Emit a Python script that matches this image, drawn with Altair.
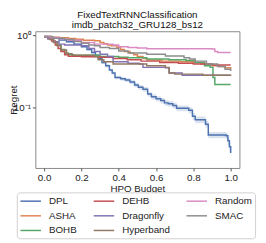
import altair as alt
import pandas as pd

methods = ["DPL", "ASHA", "BOHB", "DEHB", "Dragonfly", "Hyperband", "Random", "SMAC"]
colors = ["#4C72B0", "#DD8452", "#55A868", "#C44E52", "#8172B3", "#937860", "#DA8BC3", "#8C8C8C"]

DPL_x = [0.00, 0.04, 0.08, 0.12, 0.16, 0.20, 0.23, 0.255, 0.275, 0.29, 0.31, 0.33, 0.35, 0.365, 0.38,
         0.41, 0.435, 0.46, 0.485, 0.505, 0.53, 0.555, 0.575, 0.60, 0.625, 0.645, 0.665, 0.69, 0.71,
         0.775, 0.795, 0.81, 0.865, 0.88, 0.975, 0.985, 0.993, 1.0]
DPL_y = [0.97, 0.92, 0.87, 0.82, 0.76, 0.70, 0.64, 0.58, 0.53, 0.48, 0.42, 0.38, 0.33, 0.30, 0.26,
         0.25, 0.24, 0.225, 0.205, 0.19, 0.178, 0.153, 0.14, 0.131, 0.124, 0.115, 0.112, 0.106, 0.097,
         0.091, 0.075, 0.067, 0.058, 0.041, 0.040, 0.034, 0.028, 0.023]
DPL_lo = [0.95, 0.90, 0.85, 0.80, 0.74, 0.68, 0.62, 0.56, 0.51, 0.46, 0.40, 0.36, 0.315, 0.285, 0.245,
          0.235, 0.225, 0.21, 0.19, 0.176, 0.165, 0.141, 0.128, 0.120, 0.113, 0.105, 0.102, 0.096, 0.088,
          0.082, 0.067, 0.060, 0.052, 0.037, 0.036, 0.030, 0.024, 0.019]
DPL_hi = [0.99, 0.94, 0.89, 0.84, 0.78, 0.72, 0.66, 0.60, 0.55, 0.50, 0.44, 0.40, 0.345, 0.315, 0.275,
          0.265, 0.255, 0.24, 0.22, 0.204, 0.191, 0.165, 0.152, 0.142, 0.135, 0.125, 0.122, 0.116, 0.106,
          0.100, 0.083, 0.074, 0.064, 0.045, 0.044, 0.038, 0.032, 0.027]

ASHA_x = [0.00, 0.04, 0.08, 0.13, 0.17, 0.21, 0.27, 0.30, 0.32, 0.34, 0.36, 0.39, 0.41, 0.43, 0.46,
          0.48, 0.50, 0.53, 0.55, 0.63, 0.73, 0.80, 0.84, 0.90, 0.94, 0.97, 1.00]
ASHA_y = [0.97, 0.95, 0.93, 0.91, 0.89, 0.86, 0.85, 0.80, 0.77, 0.74, 0.72, 0.68, 0.64, 0.60, 0.57,
          0.54, 0.51, 0.48, 0.455, 0.44, 0.43, 0.42, 0.40, 0.38, 0.37, 0.355, 0.345]

BOHB_x = [0.00, 0.03, 0.05, 0.07, 0.09, 0.11, 0.13, 0.16, 0.30, 0.40, 0.45, 0.55, 0.67, 0.76, 0.81,
          0.86, 0.89, 0.905, 0.915, 1.00]
BOHB_y = [0.96, 0.90, 0.82, 0.74, 0.64, 0.57, 0.54, 0.53, 0.51, 0.50, 0.49, 0.47, 0.46, 0.45, 0.42,
          0.38, 0.36, 0.26, 0.207, 0.207]

DEHB_x = [0.00, 0.02, 0.04, 0.06, 0.075, 0.09, 0.11, 0.13, 0.20, 0.30, 0.37, 0.445, 0.52, 0.62, 0.72,
          0.80, 0.90, 1.00]
DEHB_y = [0.96, 0.90, 0.84, 0.74, 0.66, 0.60, 0.54, 0.515, 0.505, 0.50, 0.48, 0.46, 0.44, 0.42, 0.41,
          0.40, 0.39, 0.39]

Dragonfly_x = [0.00, 0.02, 0.05, 0.08, 0.11, 0.20, 0.24, 0.27, 0.30, 0.34, 0.37, 0.45, 0.51, 0.53, 0.65,
               0.67, 0.74, 1.00]
Dragonfly_y = [0.97, 0.90, 0.82, 0.76, 0.74, 0.72, 0.66, 0.60, 0.55, 0.51, 0.43, 0.41, 0.40, 0.36, 0.355,
               0.30, 0.28, 0.28]

Hyperband_x = [0.00, 0.03, 0.05, 0.07, 0.09, 0.12, 0.15, 0.27, 0.29, 0.32, 0.37, 0.45, 0.55, 0.65, 0.67,
               0.70, 0.85, 1.00]
Hyperband_y = [0.96, 0.88, 0.80, 0.72, 0.63, 0.56, 0.53, 0.51, 0.46, 0.43, 0.40, 0.40, 0.38, 0.36, 0.30,
               0.29, 0.28, 0.275]

Random_x = [0.00, 0.03, 0.08, 0.13, 0.20, 0.27, 0.37, 0.40, 0.45, 0.50, 0.55, 0.90, 0.915, 0.93, 1.00]
Random_y = [0.97, 0.94, 0.90, 0.86, 0.80, 0.76, 0.74, 0.70, 0.68, 0.67, 0.655, 0.65, 0.60, 0.58, 0.58]

SMAC_x = [0.00, 0.05, 0.11, 0.16, 0.20, 0.24, 0.27, 0.30, 0.35, 0.40, 0.45, 0.55, 0.65, 0.75, 0.78,
          0.81, 0.87, 0.93, 0.97, 1.00]
SMAC_y = [0.96, 0.92, 0.88, 0.83, 0.78, 0.74, 0.72, 0.68, 0.66, 0.61, 0.57, 0.55, 0.52, 0.49, 0.47,
          0.44, 0.40, 0.37, 0.34, 0.32]

x_ticks = [0.0, 0.2, 0.4, 0.6, 0.8, 1.0]
y_ticks = [0.1, 1.0]

series = {
    "DPL": (DPL_x, DPL_y), "ASHA": (ASHA_x, ASHA_y), "BOHB": (BOHB_x, BOHB_y),
    "DEHB": (DEHB_x, DEHB_y), "Dragonfly": (Dragonfly_x, Dragonfly_y),
    "Hyperband": (Hyperband_x, Hyperband_y), "Random": (Random_x, Random_y),
    "SMAC": (SMAC_x, SMAC_y),
}

rows = []
for k, m in enumerate(methods):
    xs, ys = series[m]
    for i, (xv, yv) in enumerate(zip(xs, ys)):
        rows.append({"method": m, "budget": xv, "regret": yv, "idx": i, "z": k})
df = pd.DataFrame(rows)
band_df = pd.DataFrame({"budget": DPL_x, "lo": DPL_lo, "hi": DPL_hi})

FONT = "Liberation Sans"
xscale = alt.Scale(domain=[-0.047, 1.047], nice=False, zero=False)
yscale = alt.Scale(type="log", domain=[0.0142, 1.15], nice=False)

band = alt.Chart(band_df).mark_area(interpolate="step-after", color="#4C72B0", opacity=0.2).encode(
    x=alt.X("budget:Q", scale=xscale),
    y=alt.Y("lo:Q", scale=yscale),
    y2="hi:Q",
)

lines = alt.Chart(df).mark_line(interpolate="step-after", strokeWidth=1.5).encode(
    x=alt.X("budget:Q", scale=xscale,
            axis=alt.Axis(values=x_ticks, format=".1f", title="HPO Budget", grid=False,
                          domain=False, tickSize=3, labelPadding=2, titlePadding=1)),
    y=alt.Y("regret:Q", scale=yscale,
            axis=alt.Axis(values=y_ticks, title="Regret", grid=False, domain=False, tickSize=3,
                          labelExpr="datum.value >= 1 ? '10\u2070' : '10\u207b\u00b9'",
                          labelPadding=2, titlePadding=-5)),
    color=alt.Color("method:N",
                    scale=alt.Scale(domain=methods, range=colors),
                    legend=alt.Legend(title=None, orient="none", legendX=-19, legendY=165,
                                      columns=3, symbolType="M-1,0H3", symbolSize=110,
                                      symbolStrokeWidth=1.5, labelOffset=18, columnPadding=13,
                                      rowPadding=4, padding=3, strokeColor="#d0d0d0",
                                      cornerRadius=3, fillColor="white")),
    detail="method:N",
    order="idx:Q",
)

chart = alt.layer(band, lines).properties(
    width=209, height=140,
    autosize=alt.AutoSizeParams(type="none"),
    padding={"left": 28, "top": 21, "right": 19, "bottom": 73},
    title=alt.TitleParams(text=["FixedTextRNNClassification", "imdb_patch32_GRU128_bs12"],
                          fontSize=10, font=FONT, fontWeight="normal", color="#111",
                          anchor="middle", offset=1, lineHeight=10),
).configure_axis(
    labelFont=FONT, titleFont=FONT, labelFontSize=10, titleFontSize=10,
    titleFontWeight="normal", labelColor="#222", titleColor="#222", tickColor="#555",
).configure_legend(
    labelFont=FONT, labelFontSize=10, labelColor="#222",
).configure_view(stroke="#888", strokeWidth=1)

chart.save("out.html", embed_options={"renderer": "svg", "actions": False})
